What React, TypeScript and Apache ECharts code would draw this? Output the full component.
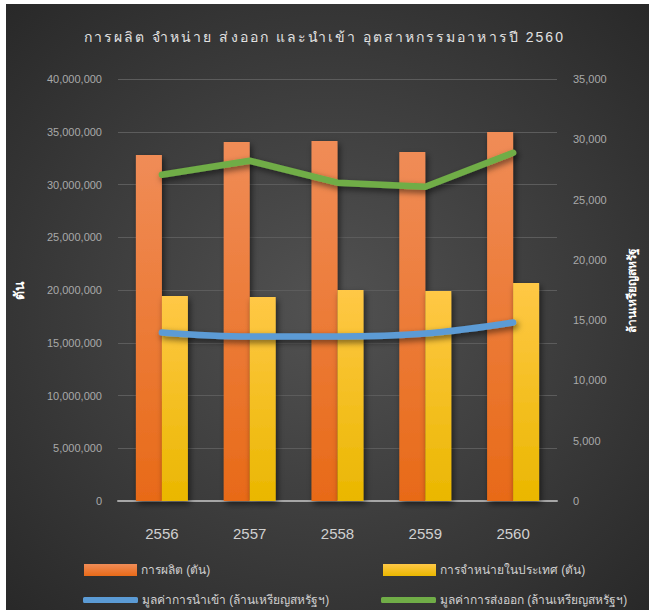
import React, { useEffect, useRef } from "react";
import * as echarts from "echarts";

const TITLE = "การผลิต จำหน่าย ส่งออก และนำเข้า อุตสาหกรรมอาหารปี 2560";
const categories = ["2556", "2557", "2558", "2559", "2560"];
const production = [32800000, 34030000, 34120000, 33080000, 34980000];
const domestic = [19430000, 19340000, 20000000, 19900000, 20660000];
const importValue = [13980, 13650, 13650, 13900, 14810];
const exportValue = [27060, 28220, 26400, 26070, 28880];
const seriesNames = [
  "การผลิต (ตัน)",
  "การจำหน่ายในประเทศ (ตัน)",
  "มูลค่าการนำเข้า (ล้านเหรียญสหรัฐฯ)",
  "มูลค่าการส่งออก (ล้านเหรียญสหรัฐฯ)",
];
const leftAxisName = "ตัน";
const rightAxisName = "ล้านเหรียญสหรัฐ";
const leftMax = 40000000;
const leftInterval = 5000000;
const rightMax = 35000;
const rightInterval = 5000;

const FONT = "'Liberation Sans', Arial, sans-serif";

export default function App() {
  const ref = useRef<HTMLDivElement>(null);
  useEffect(() => {
    if (!ref.current) return;
    const chart = echarts.init(ref.current, undefined, { renderer: "svg" });
    const fmt = (v: number) => v.toLocaleString("en-US");
    const shadow = {
      shadowBlur: 6,
      shadowOffsetX: 2,
      shadowOffsetY: 3,
      shadowColor: "rgba(0,0,0,0.55)",
    };
    const legendBase = {
      orient: "horizontal",
      itemGap: 0,
      padding: 0,
      textStyle: { color: "#d0d0d0", fontSize: 12, fontFamily: FONT, padding: [0, 0, 0, -1] },
      selectedMode: false,
    };
    chart.setOption({
      animation: false,
      backgroundColor: "#ffffff",
      graphic: [
        {
          type: "rect",
          z: -100,
          shape: { x: 6, y: 4, width: 643, height: 606 },
          style: {
            fill: new echarts.graphic.RadialGradient(0.5, 0.5, 0.75, [
              { offset: 0, color: "#525252" },
              { offset: 1, color: "#262626" },
            ]),
          },
          silent: true,
        },
      ],
      title: {
        text: TITLE,
        left: "center",
        top: 25,
        textStyle: { color: "#e2e2e2", fontSize: 14, fontWeight: "normal", fontFamily: FONT },
      },
      legend: [
        {
          ...legendBase,
          data: [{ name: seriesNames[0], icon: "rect" }],
          left: 84,
          top: 564,
          itemWidth: 53,
          itemHeight: 12,
        },
        {
          ...legendBase,
          data: [{ name: seriesNames[1], icon: "rect" }],
          left: 383,
          top: 564,
          itemWidth: 53,
          itemHeight: 12,
        },
        {
          ...legendBase,
          data: [{ name: seriesNames[2], icon: "roundRect" }],
          left: 83,
          top: 594,
          itemWidth: 55,
          itemHeight: 6,
        },
        {
          ...legendBase,
          data: [{ name: seriesNames[3], icon: "roundRect" }],
          left: 381,
          top: 594,
          itemWidth: 55,
          itemHeight: 6,
        },
      ],
      grid: { left: 118, right: 92, top: 79, bottom: 109, containLabel: false },
      xAxis: {
        type: "category",
        data: categories,
        axisLine: { lineStyle: { color: "#a6a6a6", width: 2 } },
        axisTick: { show: false },
        axisLabel: { color: "#d0d0d0", fontSize: 15, fontFamily: FONT, margin: 25 },
      },
      yAxis: [
        {
          type: "value",
          min: 0,
          max: leftMax,
          interval: leftInterval,
          name: leftAxisName,
          nameLocation: "middle",
          nameRotate: 90,
          nameGap: 92,
          nameTextStyle: { color: "#ffffff", fontSize: 14, fontWeight: "bold", fontFamily: FONT },
          axisLine: { show: false },
          axisTick: { show: false },
          axisLabel: { color: "#a9a9a9", fontSize: 11, fontFamily: FONT, margin: 16, formatter: fmt },
          splitLine: { lineStyle: { color: "#5c5c5c", width: 1 } },
        },
        {
          type: "value",
          min: 0,
          max: rightMax,
          interval: rightInterval,
          name: rightAxisName,
          nameLocation: "middle",
          nameRotate: 90,
          nameGap: 69,
          nameTextStyle: { color: "#ffffff", fontSize: 12, fontWeight: "bold", fontFamily: FONT },
          axisLine: { show: false },
          axisTick: { show: false },
          axisLabel: { color: "#a9a9a9", fontSize: 11, fontFamily: FONT, margin: 16, formatter: fmt },
          splitLine: { show: false },
        },
      ],
      series: [
        {
          name: seriesNames[0],
          type: "bar",
          data: production,
          barWidth: 26,
          barGap: "0%",
          itemStyle: {
            color: new echarts.graphic.LinearGradient(0, 0, 0, 1, [
              { offset: 0, color: "#f08c57" },
              { offset: 1, color: "#e86a18" },
            ]),
            ...shadow,
          },
        },
        {
          name: seriesNames[1],
          type: "bar",
          data: domestic,
          barWidth: 26,
          barGap: "0%",
          itemStyle: {
            color: new echarts.graphic.LinearGradient(0, 0, 0, 1, [
              { offset: 0, color: "#ffc846" },
              { offset: 1, color: "#eab700" },
            ]),
            ...shadow,
          },
        },
        {
          name: seriesNames[2],
          type: "line",
          yAxisIndex: 1,
          data: importValue,
          smooth: 0.4,
          symbol: "none",
          itemStyle: { color: "#5b9bd5" },
          lineStyle: { color: "#5b9bd5", width: 6.5, cap: "round", ...shadow },
          z: 5,
        },
        {
          name: seriesNames[3],
          type: "line",
          yAxisIndex: 1,
          data: exportValue,
          symbol: "none",
          itemStyle: { color: "#70ad47" },
          lineStyle: { color: "#70ad47", width: 6.5, cap: "round", join: "round", ...shadow },
          z: 5,
        },
      ],
    });

    // widen the title with letter spacing like the original
    const texts = ref.current.querySelectorAll("text");
    texts.forEach((t) => {
      if (t.textContent === TITLE) {
        try {
          const w0 = (t as SVGTextElement).getBBox().width;
          const seg = (Intl as any).Segmenter
            ? Array.from(new (Intl as any).Segmenter("th", { granularity: "grapheme" }).segment(TITLE)).length
            : TITLE.length;
          const sp = Math.max(0, (481 - w0) / seg);
          (t as SVGTextElement).style.letterSpacing = sp.toFixed(2) + "px";
        } catch (e) {}
      }
    });

    return () => chart.dispose();
  }, []);
  return (
    <div
      ref={ref}
      style={{ position: "fixed", left: 0, top: 0, width: 649, height: 610 }}
    />
  );
}
